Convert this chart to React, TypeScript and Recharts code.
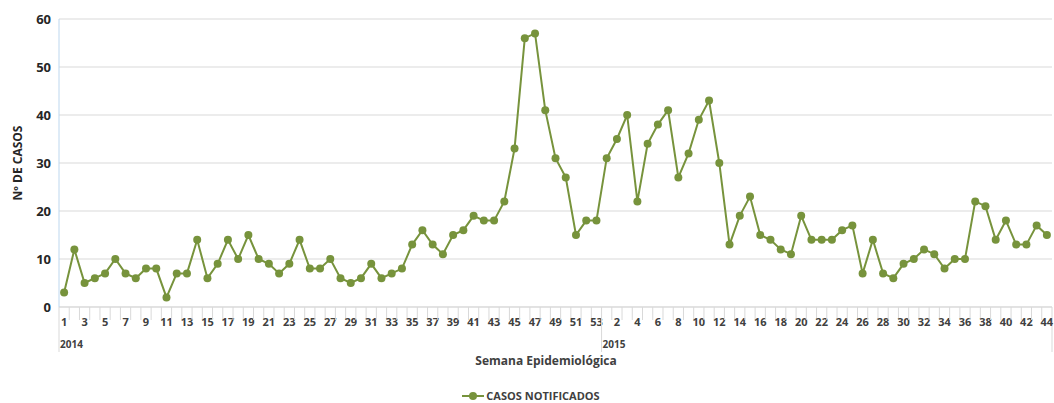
import { CartesianGrid, Legend, Line, LineChart, XAxis, YAxis } from "recharts";

const weeks2014 = Array.from({ length: 53 }, (_, i) => i + 1);
const weeks2015 = Array.from({ length: 44 }, (_, i) => i + 1);

const casos2014 = [
  3, 12, 5, 6, 7, 10, 7, 6, 8, 8, 2, 7, 7, 14, 6, 9, 14, 10, 15, 10, 9, 7, 9, 14, 8, 8, 10, 6, 5, 6, 9, 6, 7,
  8, 13, 16, 13, 11, 15, 16, 19, 18, 18, 22, 33, 56, 57, 41, 31, 27, 15, 18, 18,
];
const casos2015 = [
  31, 35, 40, 22, 34, 38, 41, 27, 32, 39, 43, 30, 13, 19, 23, 15, 14, 12, 11, 19, 14, 14, 14, 16, 17, 7, 14,
  7, 6, 9, 10, 12, 11, 8, 10, 10, 22, 21, 14, 18, 13, 13, 17, 15,
];
const yTicks = [0, 10, 20, 30, 40, 50, 60];

const data = [
  ...weeks2014.map((w, i) => ({ key: `2014-${w}`, week: w, casos: casos2014[i] })),
  ...weeks2015.map((w, i) => ({ key: `2015-${w}`, week: w, casos: casos2015[i] })),
];

const FONT = "'Liberation Sans Narrow', 'Open Sans', sans-serif";
const GREEN = "#77933c";
const PLOT_LEFT = 59;
const PLOT_RIGHT = 1052;
const AXIS_Y = 307;
const STEP = (PLOT_RIGHT - PLOT_LEFT) / data.length;

function WeekTick(props: any) {
  const { x, index } = props;
  const row = data[index];
  const left = x - STEP / 2;
  const isYearStart = row && row.week === 1;
  const isLast = index === data.length - 1;
  return (
    <g>
      <line x1={left} x2={left} y1={AXIS_Y} y2={isYearStart ? AXIS_Y + 45 : AXIS_Y + 13} stroke="#d9d9d9" />
      {isLast && <line x1={x + STEP / 2} x2={x + STEP / 2} y1={AXIS_Y} y2={AXIS_Y + 45} stroke="#d9d9d9" />}
      {index % 2 === 0 && (
        <text x={x} y={AXIS_Y + 19} textAnchor="middle" fontSize={11} fontWeight="bold" fill="#404040" fontFamily={FONT}>
          {row.week}
        </text>
      )}
      {isYearStart && (
        <text x={left + 1} y={AXIS_Y + 41} fontSize={10} fontWeight="bold" fill="#404040" fontFamily={FONT}>
          {row.key.slice(0, 4)}
        </text>
      )}
    </g>
  );
}

function LegendBox() {
  return (
    <div
      style={{
        height: 36,
        display: "flex",
        justifyContent: "center",
        alignItems: "flex-end",
        paddingLeft: 10,
        boxSizing: "border-box",
        paddingBottom: 0,
      }}
    >
      <svg width={22} height={12} style={{ marginBottom: 1 }}>
        <line x1={0} x2={22} y1={6} y2={6} stroke={GREEN} strokeWidth={2} />
        <circle cx={11} cy={6} r={4} fill={GREEN} />
      </svg>
      <span style={{ fontFamily: FONT, fontSize: 11, fontWeight: "bold", color: "#404040", marginLeft: 2, lineHeight: "14px" }}>
        CASOS NOTIFICADOS
      </span>
    </div>
  );
}

export default function App() {
  return (
    <div style={{ position: "absolute", left: 0, top: 0, background: "#fff" }}>
      <LineChart width={1054} height={403} data={data} margin={{ top: 19, right: 2, bottom: 0, left: 0 }}>
        <CartesianGrid vertical={false} stroke="#d9d9d9" />
        <XAxis
          dataKey="key"
          interval={0}
          height={60}
          padding={{ left: STEP / 2, right: STEP / 2 }}
          tickLine={false}
          axisLine={{ stroke: "#d9d9d9" }}
          tick={<WeekTick />}
          label={{
            content: () => (
              <text x={546} y={365} textAnchor="middle" fontSize={12} fontWeight="bold" fill="#404040" fontFamily={FONT}>
                Semana Epidemiológica
              </text>
            ),
          }}
        />
        <YAxis
          width={59}
          domain={[0, 60]}
          ticks={yTicks}
          tickLine={false}
          axisLine={{ stroke: "#bdd7ee" }}
          tick={{ fontSize: 13, fontWeight: "bold", fill: "#262626", fontFamily: FONT }}
          label={{
            value: "Nº DE CASOS",
            angle: -90,
            position: "insideLeft",
            offset: 18,
            style: { fontSize: 12, fontWeight: "bold", fill: "#262626", fontFamily: FONT, textAnchor: "middle" },
          }}
        />
        <Legend verticalAlign="bottom" content={<LegendBox />} />
        <Line
          type="linear"
          dataKey="casos"
          name="CASOS NOTIFICADOS"
          stroke={GREEN}
          strokeWidth={2}
          dot={{ r: 4, fill: GREEN, stroke: GREEN, strokeWidth: 0 }}
          isAnimationActive={false}
        />
      </LineChart>
    </div>
  );
}
